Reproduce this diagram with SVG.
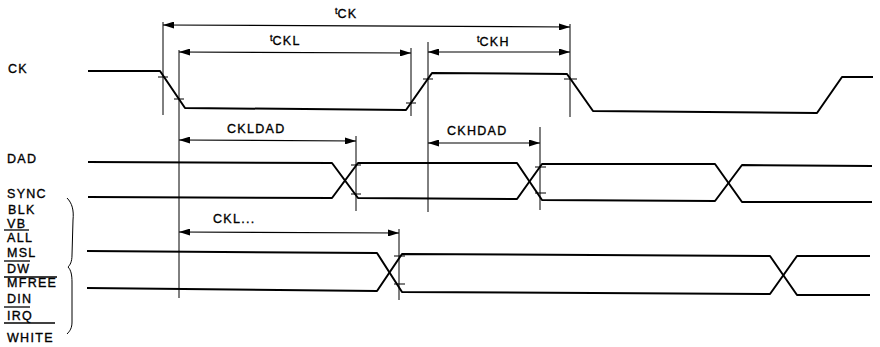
<svg xmlns="http://www.w3.org/2000/svg" width="880" height="347" viewBox="0 0 880 347">
<defs>
<marker id="ah" viewBox="0 0 11 7" refX="11" refY="3.5" markerWidth="11" markerHeight="7" markerUnits="userSpaceOnUse" orient="auto-start-reverse">
<path d="M0,0 L11,3.5 L0,7 z" fill="#000"/>
</marker>
<style>
.sig{fill:none;stroke:#000;stroke-width:2;stroke-linejoin:round}
.ref{fill:none;stroke:#000;stroke-width:1}
.dim{fill:none;stroke:#000;stroke-width:1.2;marker-start:url(#ah);marker-end:url(#ah)}
.tick{fill:none;stroke:#000;stroke-width:1.2}
.t{font-family:"Liberation Sans",Arial,sans-serif;font-size:12.5px;letter-spacing:1.3px;fill:#000;stroke:#000;stroke-width:0.35}
.sub{font-size:9px;letter-spacing:0}
.ov{stroke:#000;stroke-width:1.3}
</style>
</defs>
<rect width="880" height="347" fill="#fff"/>

<g id="labels">
<text class="t" x="8" y="73">CK</text>
<text class="t" x="7" y="163">DAD</text>
<text class="t" x="7" y="198">SYNC</text>
<text class="t" x="8" y="214">BLK</text>
<text class="t" x="7" y="228">VB</text>
<line class="ov" x1="4" y1="230" x2="29" y2="230"/>
<text class="t" x="7" y="242">ALL</text>
<text class="t" x="7" y="257">MSL</text>
<line class="ov" x1="4" y1="261" x2="30" y2="261"/>
<text class="t" x="7" y="273">DW</text>
<line class="ov" x1="4" y1="277" x2="57" y2="277"/>
<text class="t" x="7" y="287">MFREE</text>
<text class="t" x="7" y="303">DIN</text>
<line class="ov" x1="4" y1="307" x2="30" y2="307"/>
<text class="t" x="7" y="320">IRQ</text>
<line class="ov" x1="4" y1="323" x2="55" y2="323"/>
<text class="t" x="7" y="342">WHITE</text>
<path class="ref" d="M67,198 C72,203 74,210 73,220 L72,255 C72,262 70,265 68,267 C71,270 72,275 72,282 L72,322 C72,328 70,331 67,334" stroke-width="1.3"/>
</g>

<g id="ck">
<path class="sig" d="M88,71 L160,71 L185,108 L406,110 L432,73 L567,74 L593,111 L817,113 L842,77 L873,77"/>
<path class="tick" d="M158,77 H168 M174,99 H184 M406,103 H416 M423,79 H433 M564,79 H577"/>
</g>

<g id="dad">
<path class="sig" d="M88,162 L332,163 L358,198 L517,199 L542,164 L715,164 L742,202 L872,202"/>
<path class="sig" d="M88,197 L332,198 L358,163 L517,163 L542,200 L715,201 L742,165 L872,166"/>
<path class="tick" d="M351,165 H361 M351,194 H361 M535,167 H546 M535,193 H546"/>
</g>

<g id="bus">
<path class="sig" d="M87,251 L377,253 L402,292 L770,294 L797,256 L870,256"/>
<path class="sig" d="M87,288 L377,291 L402,254 L770,256 L797,295 L870,295"/>
<path class="tick" d="M394,256 H405 M394,284 H405"/>
</g>

<g id="connectors">
<line class="ref" x1="163" y1="22" x2="163" y2="115"/>
<line class="ref" x1="179" y1="50" x2="179" y2="298"/>
<line class="ref" x1="411" y1="48" x2="411" y2="116"/>
<line class="ref" x1="428" y1="42" x2="428" y2="212"/>
<line class="ref" x1="570" y1="24" x2="570" y2="117"/>
<line class="ref" x1="356" y1="136" x2="356" y2="211"/>
<line class="ref" x1="540" y1="127" x2="540" y2="210"/>
<line class="ref" x1="399" y1="229" x2="399" y2="300"/>
<line class="dim" x1="163" y1="25" x2="570" y2="27"/>
<line class="dim" x1="179" y1="52" x2="411" y2="53"/>
<line class="dim" x1="428" y1="52" x2="570" y2="52"/>
<line class="dim" x1="179" y1="140" x2="356" y2="141"/>
<line class="dim" x1="428" y1="143" x2="540" y2="143"/>
<line class="dim" x1="179" y1="232" x2="399" y2="233"/>
</g>

<g id="dimlabels">
<text class="t" x="335" y="18"><tspan class="sub" dy="-4">t</tspan><tspan dy="4">CK</tspan></text>
<text class="t" x="270" y="45"><tspan class="sub" dy="-4">t</tspan><tspan dy="4">CKL</tspan></text>
<text class="t" x="477" y="46"><tspan class="sub" dy="-4">t</tspan><tspan dy="4">CKH</tspan></text>
<text class="t" x="227" y="133">CKLDAD</text>
<text class="t" x="447" y="135">CKHDAD</text>
<text class="t" x="213" y="223">CKL...</text>
</g>
</svg>
